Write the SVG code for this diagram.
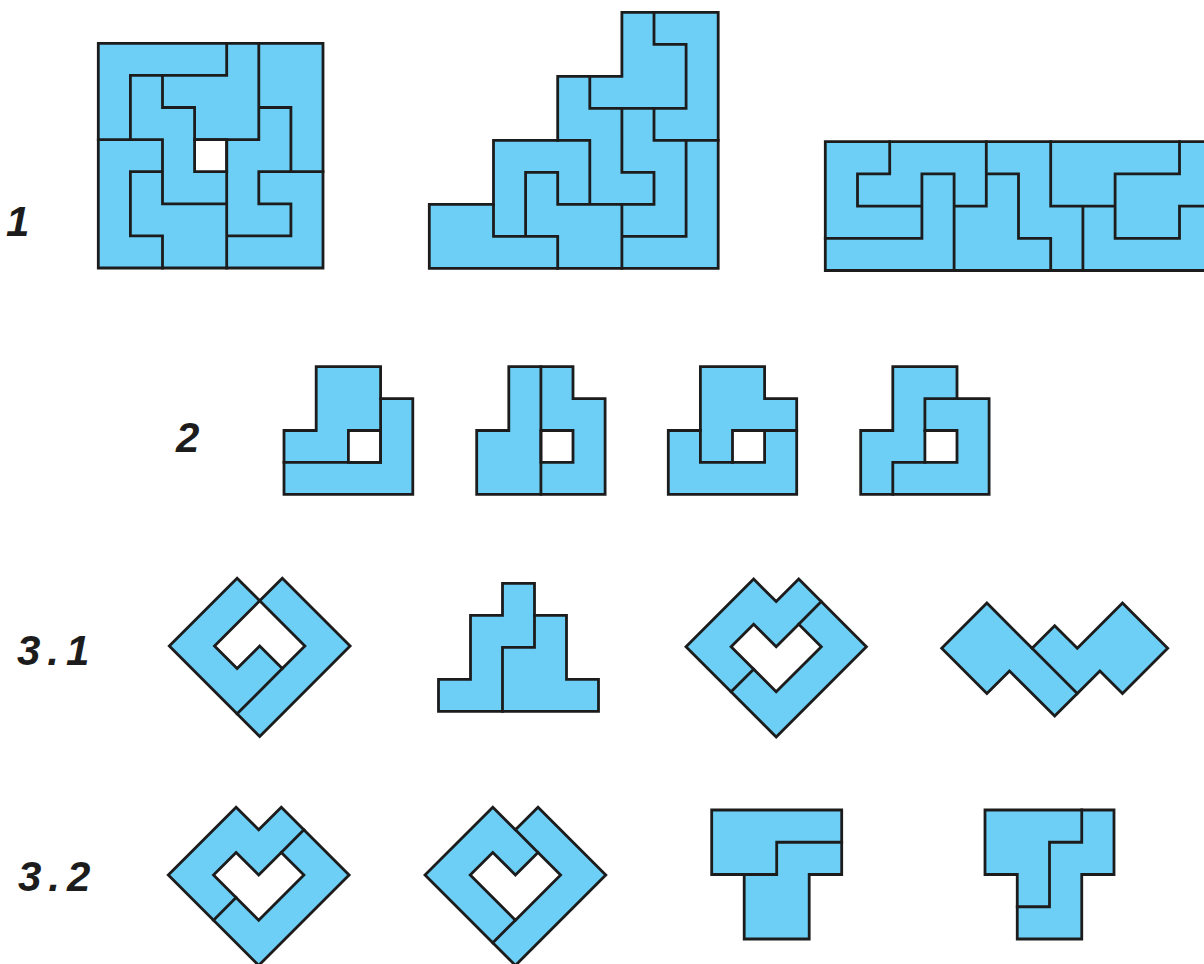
<svg xmlns="http://www.w3.org/2000/svg" width="1204" height="964" viewBox="0 0 1204 964">
<style>
.p{fill:#6DCFF6;stroke:#1c1c1c;stroke-width:2.8;stroke-linejoin:miter;vector-effect:non-scaling-stroke}
.h{fill:#ffffff;stroke:#1c1c1c;stroke-width:2.8;vector-effect:non-scaling-stroke}
.l{fill:none;stroke:#1c1c1c;stroke-width:2.8;stroke-linecap:square;stroke-linejoin:miter;vector-effect:non-scaling-stroke}
.t{font-family:"Liberation Sans",Arial,sans-serif;font-weight:bold;font-style:italic;font-size:42px;fill:#1c1c1c}
</style>
<rect width="1204" height="964" fill="#ffffff"/>

<g id="labels">
<text class="t" x="6" y="236">1</text>
<text class="t" x="176" y="452">2</text>
<text class="t" x="17" y="665" letter-spacing="7">3.1</text>
<text class="t" x="18" y="891" letter-spacing="7">3.2</text>
</g>

<g id="fig1a" transform="translate(98.3,43.3) scale(32.1)">
<path class="p" d="M0,0 H7 V7 H0 Z"/>
<rect class="h" x="3" y="3" width="1" height="1"/>
<path class="l" d="M4,0 V1 H1 V3 M2,1 V2 H3 V3 H5 M5,0 V3 M5,2 H6 V4 H7 M5,4 H6 M5,4 V5 H6 V6 H4 M4,3 V7 M0,3 H2 V5 H4 M2,4 H1 V6 H2 V7"/>
</g>

<g id="fig1b" transform="translate(429.3,12.3) scale(32.1,32.0)">
<path class="p" d="M6,0 H9 V8 H0 V6 H2 V4 H4 V2 H6 Z"/>
<path class="l" d="M7,0 V1 H8 V3 H5 V2 M7,3 V4 H9 M6,3 V5 H7 V6 M4,6 H7 M4,4 H5 V6 M3,7 V5 H4 V6 M2,6 V7 H4 V8 M8,4 V7 H6 M6,6 V8"/>
</g>

<g id="fig1c" transform="translate(825.3,141.7) scale(32.2)">
<path class="p" d="M0,0 H13 V4 H0 Z"/>
<path class="l" d="M2,0 V1 H1 V2 H3 M0,3 H3 V1 H4 V4 M4,2 H5 V0 M5,1 H6 V3 H7 V4 M7,0 V2 H9 M8,2 V4 M11,0 V1 H9 V3 H11 V2 H13"/>
</g>

<g id="fig2a" transform="translate(284,366.7) scale(32.2,31.9)">
<path class="p" d="M1,0 H3 V1 H4 V4 H0 V2 H1 Z"/>
<rect class="h" x="2" y="2" width="1" height="1"/>
<path class="l" d="M0,3 H3 V1"/>
</g>

<g id="fig2b" transform="translate(476.7,366.7) scale(32.1,31.9)">
<path class="p" d="M1,0 H3 V1 H4 V4 H0 V2 H1 Z"/>
<rect class="h" x="2" y="2" width="1" height="1"/>
<path class="l" d="M2,0 V4"/>
</g>

<g id="fig2c" transform="translate(668.3,366.7) scale(32.1,31.9)">
<path class="p" d="M1,0 H3 V1 H4 V4 H0 V2 H1 Z"/>
<rect class="h" x="2" y="2" width="1" height="1"/>
<path class="l" d="M1,2 V3 H2 M3,2 H4"/>
</g>

<g id="fig2d" transform="translate(860.7,366.7) scale(32.1,31.9)">
<path class="p" d="M1,0 H3 V1 H4 V4 H0 V2 H1 Z"/>
<rect class="h" x="2" y="2" width="1" height="1"/>
<path class="l" d="M3,1 H2 V2 M2,3 H1 V4"/>
</g>

<g id="fig31a" transform="matrix(22.6,-22.6,22.6,22.6,169.3,646)">
<path class="p" d="M0,0 L3,0 L3,1 L4,1 L4,4 L0,4 Z"/>
<path class="h" d="M3,1 L1,1 L1,2 L2,2 L2,3 L3,3 Z"/>
<path class="l" d="M2,3 L0,3"/>
</g>

<g id="fig31b" transform="translate(438.5,583.3) scale(32)">
<path class="p" d="M2,0 H3 V1 H4 V3 H5 V4 H0 V3 H1 V1 H2 Z"/>
<path class="l" d="M3,1 V2 H2 V4"/>
</g>

<g id="fig31c" transform="matrix(22.55,-22.55,22.55,22.55,686,646.7)">
<path class="p" d="M0,0 L3,0 L3,1 L4,1 L4,4 L0,4 Z"/>
<path class="h" d="M2,1 L1,1 L1,3 L3,3 L3,2 L2,2 Z"/>
<path class="l" d="M3,2 L4,2 M0,2 L1,2"/>
</g>

<g id="fig31d" transform="matrix(22.6,-22.6,22.6,22.6,941.7,648.3)">
<path class="p" d="M0,0 L2,0 L2,2 L3,2 L3,3 L5,3 L5,5 L3,5 L3,4 L1,4 L1,2 L0,2 Z"/>
<path class="l" d="M2,2 L2,4"/>
</g>

<g id="fig32a" transform="matrix(22.6,-22.6,22.6,22.6,168.3,875)">
<path class="p" d="M0,0 L3,0 L3,1 L4,1 L4,4 L0,4 Z"/>
<path class="h" d="M2,1 L1,1 L1,3 L3,3 L3,2 L2,2 Z"/>
<path class="l" d="M3,2 L4,2 M0,2 L1,2"/>
</g>

<g id="fig32b" transform="matrix(22.6,-22.6,22.6,22.6,425,875)">
<path class="p" d="M0,0 L3,0 L3,1 L4,1 L4,4 L0,4 Z"/>
<path class="h" d="M2,1 L1,1 L1,3 L3,3 L3,2 L2,2 Z"/>
<path class="l" d="M3,1 L3,2 M0,3 L1,3"/>
</g>

<g id="fig32c" transform="translate(711.7,810) scale(32.5,32.25)">
<path class="p" d="M0,0 H4 V2 H3 V4 H1 V2 H0 Z"/>
<path class="l" d="M4,1 H2 V2 H1"/>
</g>

<g id="fig32d" transform="translate(985,810) scale(32.25)">
<path class="p" d="M0,0 H4 V2 H3 V4 H1 V2 H0 Z"/>
<path class="l" d="M3,0 V1 H2 V3 H1"/>
</g>
</svg>
